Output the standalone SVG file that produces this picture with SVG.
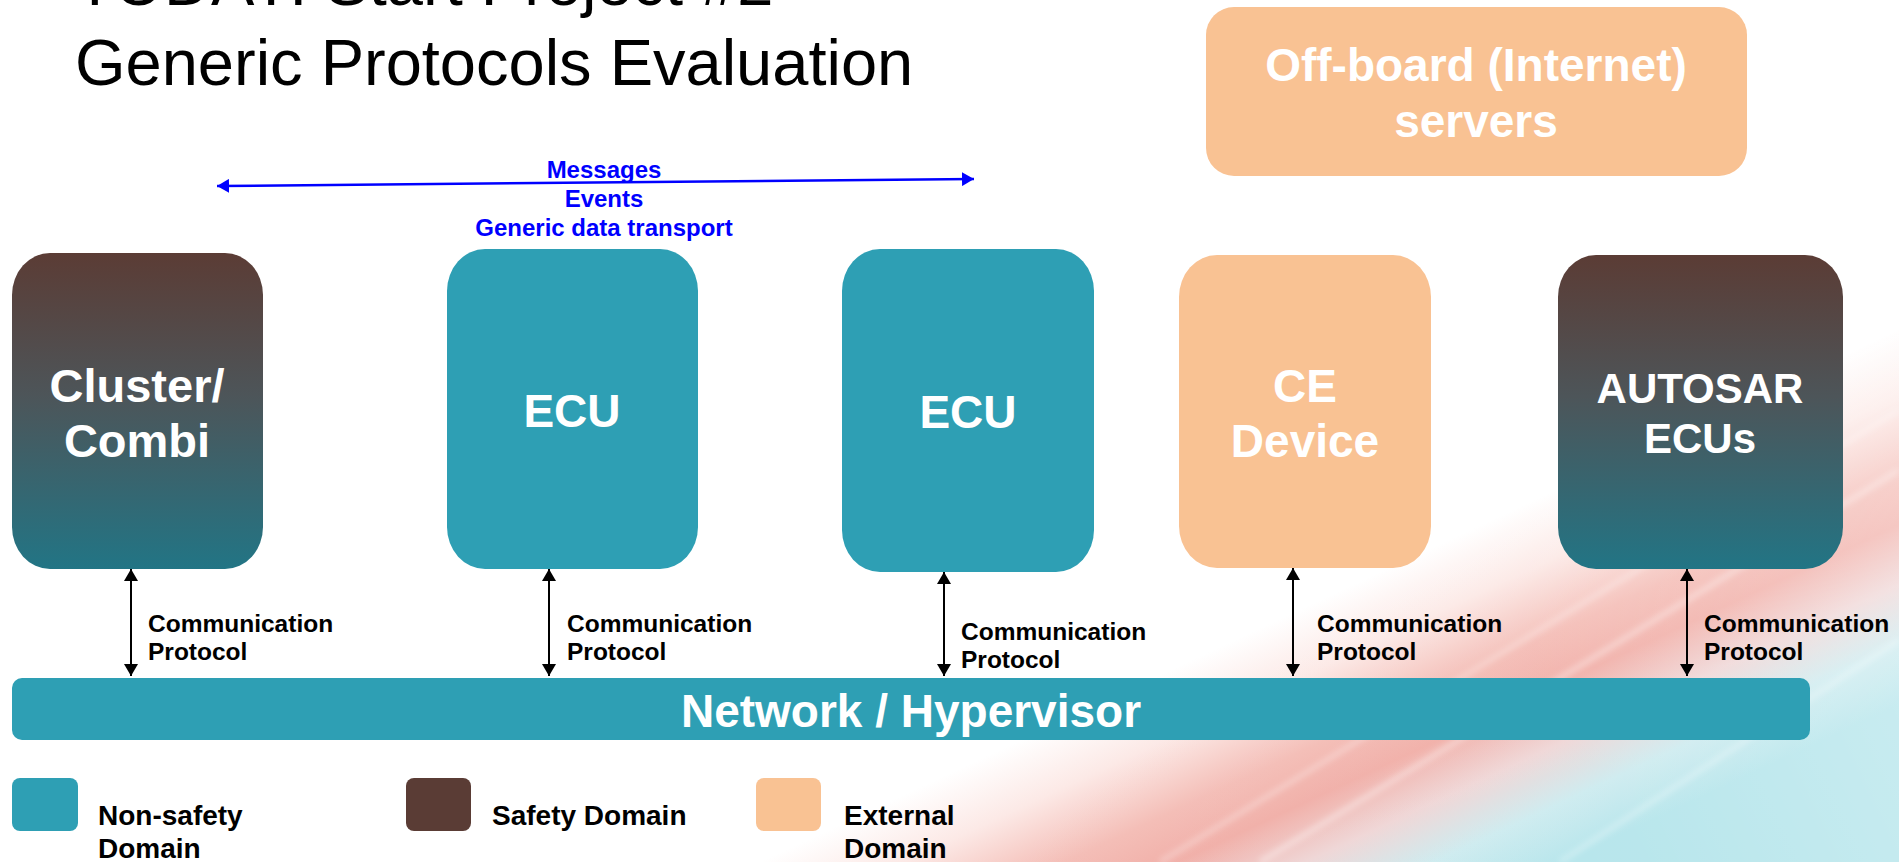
<svg xmlns="http://www.w3.org/2000/svg" width="1899" height="862" viewBox="0 0 1899 862">
  <defs>
    <style>
      .title { font-family: "Liberation Sans", Arial, sans-serif; font-size: 65px; fill: #000; }
      .node { font-family: "Liberation Sans", Arial, sans-serif; font-weight: bold; font-size: 46px; fill: #fff; text-anchor: middle; }
      .lbl { font-family: "Liberation Sans", Arial, sans-serif; font-weight: bold; font-size: 24.5px; fill: #000; }
      .blue { font-family: "Liberation Sans", Arial, sans-serif; font-weight: bold; font-size: 24px; fill: #0000FF; text-anchor: middle; }
      .leg { font-family: "Liberation Sans", Arial, sans-serif; font-weight: bold; font-size: 28px; fill: #000; }
      .teal { fill: #2E9FB4; }
      .peach { fill: #F9C293; }
      .conn { stroke: #000; stroke-width: 2; fill: none; marker-start: url(#ah); marker-end: url(#ah); }
    </style>
    <linearGradient id="safety" x1="0" y1="0" x2="0" y2="1">
      <stop offset="0" stop-color="#5B3C35"/>
      <stop offset="0.45" stop-color="#4D5559"/>
      <stop offset="1" stop-color="#227585"/>
    </linearGradient>
    <linearGradient id="bg" gradientUnits="userSpaceOnUse" x1="760" y1="862" x2="904" y2="1170">
      <stop offset="0" stop-color="#FFFFFF"/>
      <stop offset="0.18" stop-color="#FCE9E6"/>
      <stop offset="0.38" stop-color="#F4BDB6"/>
      <stop offset="0.52" stop-color="#F1AFA8"/>
      <stop offset="0.68" stop-color="#EFD6D6"/>
      <stop offset="0.84" stop-color="#CDEBEF"/>
      <stop offset="1" stop-color="#B5E5EB"/>
    </linearGradient>
    <linearGradient id="fade" gradientUnits="userSpaceOnUse" x1="900" y1="862" x2="1899" y2="380">
      <stop offset="0" stop-color="#FFFFFF" stop-opacity="0"/>
      <stop offset="0.6" stop-color="#FFFFFF" stop-opacity="0.05"/>
      <stop offset="1" stop-color="#FFFFFF" stop-opacity="0.35"/>
    </linearGradient>
    <filter id="soft" x="-10%" y="-10%" width="120%" height="120%">
      <feGaussianBlur stdDeviation="3"/>
    </filter>
    <marker id="ah" viewBox="0 0 12 14" refX="12" refY="7" markerWidth="12" markerHeight="14" markerUnits="userSpaceOnUse" orient="auto-start-reverse">
      <path d="M0,0 L12,7 L0,14 z" fill="#000"/>
    </marker>
    <marker id="bh" viewBox="0 0 12 14" refX="12" refY="7" markerWidth="12" markerHeight="14" markerUnits="userSpaceOnUse" orient="auto-start-reverse">
      <path d="M0,0 L12,7 L0,14 z" fill="#0000FF"/>
    </marker>
  </defs>

  <g id="background">
    <rect x="0" y="0" width="1899" height="862" fill="url(#bg)"/>
    <rect x="0" y="0" width="1899" height="862" fill="url(#fade)"/>
    <g stroke="#FFFFFF" stroke-opacity="0.5" fill="none" filter="url(#soft)">
      <path d="M1260,862 L1899,470" stroke-width="4"/>
      <path d="M1160,862 L1899,410" stroke-width="3"/>
      <path d="M1560,862 L1899,640" stroke-width="3"/>
    </g>
  </g>

  <g id="title">
    <text class="title" x="75" y="5">TODAY: Start Project #2</text>
    <text class="title" x="75" y="85">Generic Protocols Evaluation</text>
  </g>

  <g id="offboard">
    <rect class="peach" x="1206" y="7" width="541" height="169" rx="28" ry="28"/>
    <text class="node" x="1476" y="81">Off-board (Internet)</text>
    <text class="node" x="1476" y="137">servers</text>
  </g>

  <g id="cluster">
    <rect x="12" y="253" width="251" height="316" rx="38" ry="42" fill="url(#safety)"/>
    <text class="node" x="137" y="402" style="font-size:47px">Cluster/</text>
    <text class="node" x="137" y="457" style="font-size:47px">Combi</text>
  </g>

  <g id="ecu1">
    <rect class="teal" x="447" y="249" width="251" height="320" rx="38" ry="42"/>
    <text class="node" x="572" y="427">ECU</text>
  </g>

  <g id="ecu2">
    <rect class="teal" x="842" y="249" width="252" height="323" rx="38" ry="42"/>
    <text class="node" x="968" y="428">ECU</text>
  </g>

  <g id="ce-device">
    <rect class="peach" x="1179" y="255" width="252" height="313" rx="38" ry="42"/>
    <text class="node" x="1305" y="402">CE</text>
    <text class="node" x="1305" y="457">Device</text>
  </g>

  <g id="autosar">
    <rect x="1558" y="255" width="285" height="314" rx="38" ry="42" fill="url(#safety)"/>
    <text class="node" x="1700" y="403" style="font-size:42px">AUTOSAR</text>
    <text class="node" x="1700" y="453" style="font-size:42px">ECUs</text>
  </g>

  <g id="network">
    <rect class="teal" x="12" y="678" width="1798" height="62" rx="10" ry="10"/>
    <text class="node" x="911" y="727">Network / Hypervisor</text>
  </g>

  <g id="connectors">
    <line class="conn" x1="131" y1="569" x2="131" y2="676"/>
    <line class="conn" x1="549" y1="569" x2="549" y2="676"/>
    <line class="conn" x1="944" y1="572" x2="944" y2="676"/>
    <line class="conn" x1="1293" y1="568" x2="1293" y2="676"/>
    <line class="conn" x1="1687" y1="569" x2="1687" y2="676"/>
    <line x1="217" y1="186" x2="974" y2="179" stroke="#0000FF" stroke-width="2.5" marker-start="url(#bh)" marker-end="url(#bh)"/>
  </g>

  <g id="connector-labels">
    <text class="lbl" x="148" y="632">Communication</text>
    <text class="lbl" x="148" y="660">Protocol</text>
    <text class="lbl" x="567" y="632">Communication</text>
    <text class="lbl" x="567" y="660">Protocol</text>
    <text class="lbl" x="961" y="640">Communication</text>
    <text class="lbl" x="961" y="668">Protocol</text>
    <text class="lbl" x="1317" y="632">Communication</text>
    <text class="lbl" x="1317" y="660">Protocol</text>
    <text class="lbl" x="1704" y="632">Communication</text>
    <text class="lbl" x="1704" y="660">Protocol</text>
    <text class="blue" x="604" y="178">Messages</text>
    <text class="blue" x="604" y="207">Events</text>
    <text class="blue" x="604" y="236">Generic data transport</text>
  </g>

  <g id="legend">
    <g id="legend-nonsafety">
      <rect class="teal" x="12" y="778" width="66" height="53" rx="8" ry="8"/>
      <text class="leg" x="98" y="825">Non-safety</text>
      <text class="leg" x="98" y="858">Domain</text>
    </g>
    <g id="legend-safety">
      <rect x="406" y="778" width="65" height="53" rx="8" ry="8" fill="#5A3C35"/>
      <text class="leg" x="492" y="825">Safety Domain</text>
    </g>
    <g id="legend-external">
      <rect class="peach" x="756" y="778" width="65" height="53" rx="8" ry="8"/>
      <text class="leg" x="844" y="825">External</text>
      <text class="leg" x="844" y="858">Domain</text>
    </g>
  </g>
</svg>
